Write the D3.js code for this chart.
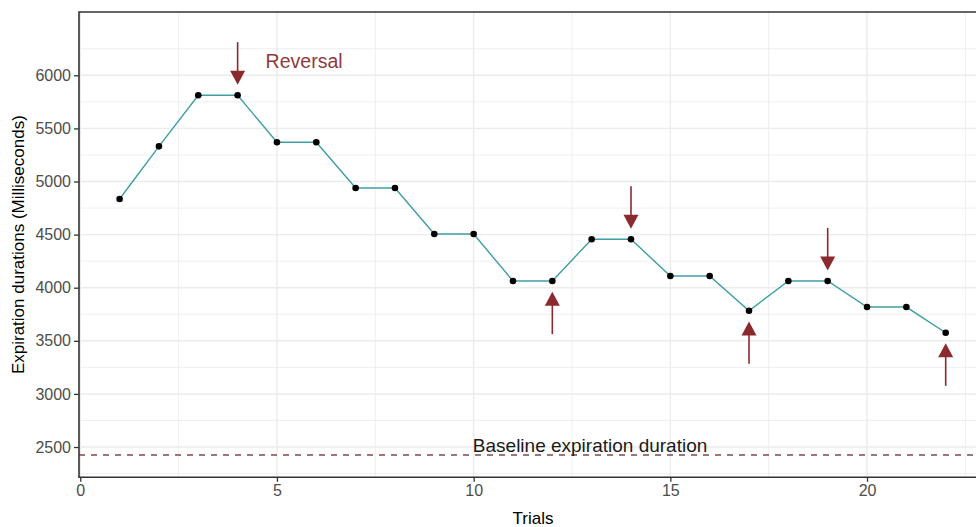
<!DOCTYPE html>
<html>
<head>
<meta charset="utf-8">
<script src="https://cdn.jsdelivr.net/npm/d3@7"></script>
<style>
  body { margin: 0; background: #fff; }
  svg { display: block; font-family: "Liberation Sans", Arial, sans-serif; }
</style>
</head>
<body>
<svg id="chart" width="976" height="527"></svg>
<script>
const trials = [1, 2, 3, 4, 5, 6, 7, 8, 9, 10, 11, 12, 13, 14, 15, 16, 17, 18, 19, 20, 21, 22];
const durations = [4835, 5331, 5812, 5812, 5369, 5369, 4939, 4939, 4506, 4506, 4063, 4063,
                   4456, 4456, 4110, 4110, 3783, 4063, 4063, 3818, 3818, 3576];
const xTicks = [0, 5, 10, 15, 20];
const yTicks = [2500, 3000, 3500, 4000, 4500, 5000, 5500, 6000];
const baselineDuration = 2425;
const downArrows = [4, 14, 19];   // reversal arrows pointing down
const upArrows = [12, 17, 22];    // reversal arrows pointing up

const svg = d3.select("#chart");
const panel = { left: 79, top: 12, bottom: 477.3 };

const x = d3.scaleLinear().domain([-0.05, 23.05]).range([78.3, 987]);
const y = d3.scaleLinear().domain([2215, 6596]).range([panel.bottom, panel.top]);

const grid = svg.append("g");
// minor grid
grid.selectAll(".ymin")
    .data(d3.range(2250, 6600, 500))
    .enter().append("line")
    .attr("x1", panel.left).attr("x2", 976)
    .attr("y1", d => y(d)).attr("y2", d => y(d))
    .attr("stroke", "#ebebeb").attr("stroke-width", 0.8);
grid.selectAll(".xmin")
    .data([2.5, 7.5, 12.5, 17.5, 22.5])
    .enter().append("line")
    .attr("x1", d => x(d)).attr("x2", d => x(d))
    .attr("y1", panel.top).attr("y2", panel.bottom)
    .attr("stroke", "#ebebeb").attr("stroke-width", 0.8);
// major grid
grid.selectAll(".ymaj")
    .data(yTicks)
    .enter().append("line")
    .attr("x1", panel.left).attr("x2", 976)
    .attr("y1", d => y(d)).attr("y2", d => y(d))
    .attr("stroke", "#ebebeb").attr("stroke-width", 1.4);
grid.selectAll(".xmaj")
    .data(xTicks)
    .enter().append("line")
    .attr("x1", d => x(d)).attr("x2", d => x(d))
    .attr("y1", panel.top).attr("y2", panel.bottom)
    .attr("stroke", "#ebebeb").attr("stroke-width", 1.4);

// baseline
svg.append("line")
    .attr("x1", panel.left).attr("x2", 976)
    .attr("y1", y(baselineDuration)).attr("y2", y(baselineDuration))
    .attr("stroke", "#80474f").attr("stroke-width", 1.3)
    .attr("stroke-dasharray", "6,6");

svg.append("text")
    .attr("x", x(12.96)).attr("y", y(2455))
    .attr("text-anchor", "middle")
    .attr("font-size", 19).attr("fill", "#1a1a1a")
    .text("Baseline expiration duration");

// data line
svg.append("path")
    .datum(trials.map((t, i) => [t, durations[i]]))
    .attr("fill", "none")
    .attr("stroke", "#3f9ea5")
    .attr("stroke-width", 1.4)
    .attr("d", d3.line().x(d => x(d[0])).y(d => y(d[1])));

svg.selectAll(".pt")
    .data(trials.map((t, i) => [t, durations[i]]))
    .enter().append("circle")
    .attr("cx", d => x(d[0])).attr("cy", d => y(d[1]))
    .attr("r", 3.3).attr("fill", "#000");

// arrows
const arrowColor = "#8b2a2e";
function drawArrow(t, dir) {
    const v = durations[trials.indexOf(t)];
    const tail = y(v + dir * 500);
    const tip = y(v + dir * 100);
    const s = dir > 0 ? 1 : -1; // tip is below tail when dir > 0
    const headLen = 14, headHalf = 7.5;
    svg.append("line")
        .attr("x1", x(t)).attr("x2", x(t))
        .attr("y1", tail).attr("y2", tip - s * headLen + s)
        .attr("stroke", arrowColor).attr("stroke-width", 1.6);
    svg.append("path")
        .attr("d", `M${x(t)},${tip} L${x(t) - headHalf},${tip - s * headLen} L${x(t) + headHalf},${tip - s * headLen} Z`)
        .attr("fill", arrowColor);
}
downArrows.forEach(t => drawArrow(t, 1));
upArrows.forEach(t => drawArrow(t, -1));

svg.append("text")
    .attr("x", x(5.69)).attr("y", y(6071))
    .attr("text-anchor", "middle")
    .attr("font-size", 19.5).attr("fill", "#8e3b3e")
    .text("Reversal");

// panel border
svg.append("path")
    .attr("d", `M976,${panel.top} L${panel.left},${panel.top} L${panel.left},${panel.bottom} L976,${panel.bottom}`)
    .attr("fill", "none").attr("stroke", "#333").attr("stroke-width", 1.6);

// axes
const xAxis = svg.append("g")
    .attr("transform", `translate(0,${panel.bottom})`)
    .call(d3.axisBottom(x).tickValues(xTicks).tickSize(4.5).tickPadding(3));
const yAxis = svg.append("g")
    .attr("transform", `translate(${panel.left},0)`)
    .call(d3.axisLeft(y).tickValues(yTicks).tickSize(5).tickPadding(3).tickFormat(d3.format("d")));
[xAxis, yAxis].forEach(a => {
    a.select(".domain").remove();
    a.selectAll(".tick line").attr("stroke", "#333").attr("stroke-width", 1.3);
    a.selectAll(".tick text").attr("fill", "#4d4d4d").attr("font-size", 16)
        .attr("font-family", "Liberation Sans, Arial, sans-serif");
});

svg.append("text")
    .attr("x", (panel.left + 987) / 2).attr("y", 524)
    .attr("text-anchor", "middle").attr("font-size", 17).attr("fill", "#000")
    .text("Trials");

svg.append("text")
    .attr("transform", `translate(24,${(panel.top + panel.bottom) / 2}) rotate(-90)`)
    .attr("text-anchor", "middle").attr("font-size", 17).attr("fill", "#000")
    .text("Expiration durations (Milliseconds)");
</script>
</body>
</html>
